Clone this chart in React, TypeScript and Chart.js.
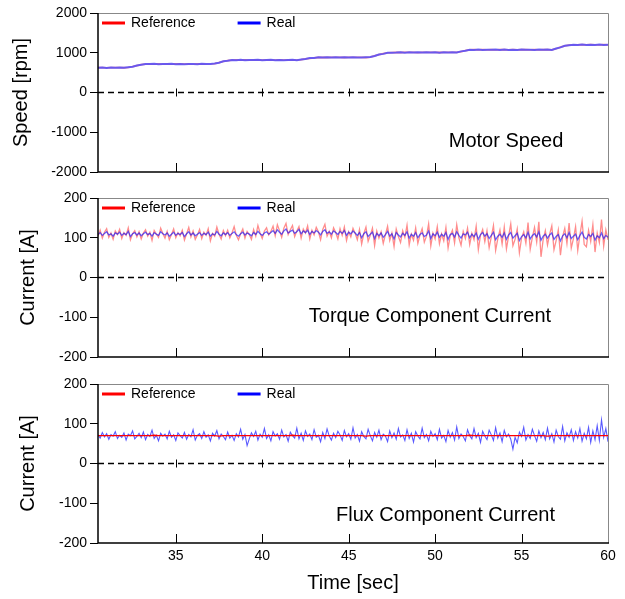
import { useEffect, useRef } from 'react';
import { Chart, registerables } from 'chart.js';

Chart.register(...registerables);

// ---------- data ----------
const T0 = 30.5; // first sample time [sec]
const DT_SLOW = 0.25; // sample interval of speed & flux reference [sec]
const DT_FAST = 0.125; // sample interval of the current signals [sec]

const X_TICKS = [35, 40, 45, 50, 55, 60];
const SPEED_TICKS = [-2000, -1000, 0, 1000, 2000];
const CURRENT_TICKS = [-200, -100, 0, 100, 200];
const SERIES_LABELS = ['Reference', 'Real'];

const SPEED_REF = [
  625, 628, 622, 626, 624, 627, 623,
  632, 652, 676, 700, 713,
  717, 715, 719, 716, 718, 714, 717, 720, 716, 718, 715, 717, 719, 716, 718,
  726, 754, 781, 804, 815,
  817, 815, 819, 816, 818, 820, 815, 817, 819, 816, 818, 814, 817, 820, 816,
  826, 846, 861, 873, 880,
  883, 881, 885, 882, 884, 880, 883, 886, 882, 884, 881,
  891, 921, 951, 976, 996, 1005,
  1008, 1006, 1010, 1007, 1009, 1005, 1008, 1011, 1007, 1009, 1006, 1008, 1010, 1007, 1009,
  1031, 1054, 1070,
  1075, 1073, 1077, 1074, 1076, 1072, 1075, 1078, 1074, 1076, 1073, 1075, 1077, 1074, 1076, 1073, 1075, 1078, 1074,
  1101, 1139, 1171, 1190,
  1200, 1198, 1203, 1199, 1201, 1197, 1200, 1204, 1199,
];

const SPEED_REAL = [
  622, 630, 619, 628, 621, 631, 620,
  635, 648, 680, 697, 716,
  714, 721, 712, 719, 715, 722, 713, 718, 711, 720, 716, 713, 721, 714, 719,
  730, 750, 785, 800, 818,
  814, 821, 812, 819, 815, 823, 811, 818, 822, 813, 820, 811, 818, 823, 814,
  829, 842, 865, 870, 884,
  880, 887, 878, 886, 881, 889, 879, 885, 883, 878, 886,
  895, 917, 955, 972, 999, 1003,
  1005, 1012, 1003, 1010, 1006, 1014, 1004, 1011, 1005, 1013, 1003, 1010, 1007, 1012, 1005,
  1035, 1050, 1073,
  1072, 1080, 1070, 1078, 1073, 1081, 1071, 1079, 1072, 1077, 1070, 1080, 1074, 1078, 1071, 1079, 1073, 1080, 1072,
  1105, 1135, 1175, 1188,
  1203, 1196, 1206, 1195, 1204, 1198, 1207, 1196, 1202,
];

const TORQUE_REF = [
  104, 119, 99, 114, 123, 101, 112, 96, 117, 108,
  121, 98, 113, 106, 125, 95, 110, 118, 102, 115,
  97, 112, 120, 104, 114, 93, 118, 109, 101, 124,
  111, 99, 116, 95, 108, 122, 100, 113, 105, 119,
  94, 110, 126, 102, 117, 96, 107, 121, 98, 114,
  106, 123, 92, 111, 104, 127, 109, 97, 118, 105,
  119, 100, 112, 128, 106, 95, 110, 122, 99, 116,
  108, 96, 121, 104, 131, 112, 98, 117, 125, 107,
  116, 129, 105, 133, 118, 101, 124, 136, 108, 120,
  131, 103, 117, 128, 99, 122, 112, 130, 97, 119,
  107, 126, 115, 95, 121, 134, 104, 116, 100, 125,
  113, 97, 123, 106, 127, 93, 115, 102, 124, 111,
  95, 121, 84, 110, 127, 91, 106, 124, 80, 117,
  99, 115, 86, 108, 129, 93, 112, 78, 122, 103,
  88, 118, 101, 132, 82, 109, 94, 125, 86, 107,
  123, 89, 104, 135, 79, 112, 97, 128, 85, 110,
  92, 126, 74, 105, 119, 87, 133, 100, 81, 116,
  98, 124, 83, 111, 95, 129, 70, 106, 121, 90,
  118, 75, 102, 131, 68, 97, 120, 84, 127, 72,
  104, 135, 80, 96, 122, 62, 99, 115, 86, 138,
  71, 101, 126, 89, 140, 52, 95, 118, 82, 109,
  130, 70, 93, 120, 56, 103, 124, 85, 137, 74,
  98, 128, 68, 107, 142, 83, 77, 119, 91, 133,
  64, 112, 88, 146, 79, 120, 95,
];

const TORQUE_REAL = [
  108, 113, 106, 111, 115, 107, 110, 104, 112, 109,
  114, 106, 111, 108, 116, 103, 110, 113, 107, 112,
  105, 110, 114, 108, 111, 104, 113, 109, 106, 115,
  110, 107, 112, 104, 109, 114, 106, 111, 108, 113,
  103, 110, 115, 107, 112, 105, 109, 113, 106, 111,
  108, 114, 104, 110, 107, 116, 109, 105, 112, 108,
  113, 106, 111, 115, 108, 104, 110, 114, 107, 112,
  109, 105, 113, 108, 116, 110, 106, 112, 115, 109,
  113, 118, 111, 120, 114, 109, 117, 122, 112, 116,
  119, 111, 115, 121, 110, 117, 113, 119, 108, 116,
  112, 118, 114, 107, 116, 120, 111, 115, 109, 117,
  113, 108, 116, 111, 118, 106, 114, 110, 117, 112,
  106, 113, 100, 110, 115, 103, 109, 114, 98, 111,
  105, 112, 101, 108, 116, 104, 110, 97, 113, 107,
  102, 111, 106, 115, 99, 109, 104, 113, 100, 108,
  112, 103, 107, 117, 98, 110, 105, 114, 101, 109,
  104, 113, 96, 108, 111, 102, 115, 106, 99, 110,
  107, 114, 100, 109, 103, 112, 96, 108, 113, 104,
  110, 98, 106, 114, 95, 104, 109, 101, 112, 96,
  107, 113, 99, 105, 111, 93, 103, 108, 100, 114,
  97, 106, 110, 102, 115, 94, 104, 109, 99, 107,
  112, 96, 103, 108, 92, 105, 110, 100, 113, 98,
  104, 109, 95, 106, 114, 101, 97, 108, 103, 111,
  94, 105, 100, 112, 98, 106, 101,
];

const FLUX_REF = [
  70, 70, 70, 70, 70, 70, 70, 70, 70, 70,
  70, 70, 70, 71, 70, 70, 70, 70, 70, 70,
  70, 70, 70, 70, 70, 70, 70, 70, 69, 70,
  70, 70, 70, 70, 70, 70, 70, 70, 70, 70,
  70, 70, 70, 70, 70, 71, 70, 70, 70, 70,
  70, 70, 70, 70, 70, 70, 70, 70, 70, 70,
  70, 70, 69, 70, 70, 70, 70, 70, 70, 70,
  70, 70, 70, 70, 70, 70, 70, 70, 70, 70,
  70, 70, 70, 70, 70, 70, 71, 70, 70, 70,
  70, 70, 70, 70, 70, 70, 70, 70, 70, 70,
  70, 70, 70, 70, 69, 70, 70, 70, 70, 70,
  70, 70, 70, 70, 70, 70, 70, 70, 70,
];

const FLUX_REAL = [
  72, 64, 78, 67, 75, 61, 73, 69, 80, 63,
  71, 66, 77, 59, 74, 70, 82, 62, 68, 76,
  65, 79, 60, 73, 68, 84, 63, 71, 57, 76,
  69, 74, 62, 81, 66, 72, 58, 77, 70, 64,
  78, 61, 73, 67, 85, 59, 71, 75, 63, 80,
  66, 72, 57, 76, 69, 83, 62, 74, 68, 60,
  79, 64, 71, 58, 75, 67, 86, 61, 73, 45,
  62, 77, 68, 81, 59, 74, 66, 88, 63, 72,
  57, 80, 69, 75, 61, 84, 67, 73, 56, 79,
  70, 64, 89, 62, 76, 58, 82, 68, 74, 60,
  85, 66, 71, 55, 78, 63, 87, 69, 59, 76,
  65, 81, 72, 58, 83, 67, 75, 61, 90, 64,
  73, 56, 80, 68, 62, 86, 70, 57, 78, 66,
  84, 60, 74, 69, 55, 82, 65, 77, 61, 88,
  67, 72, 58, 85, 63, 76, 54, 80, 69, 62,
  89, 65, 73, 57, 81, 68, 75, 60, 86, 64,
  71, 55, 83, 66, 78, 59, 92, 63, 74, 68,
  57, 85, 70, 62, 88, 65, 76, 53, 81, 69,
  60, 84, 72, 58, 90, 64, 77, 55, 83, 67,
  74, 61, 36, 66, 52, 79, 68, 91, 59, 73,
  63, 86, 70, 56, 82, 65, 78, 60, 89, 62,
  75, 54, 84, 68, 61, 93, 57, 77, 66, 85,
  58, 80, 64, 88, 56, 76, 62, 91, 53, 82,
  60, 95, 58, 110, 66, 88, 55,
];

// ---------- styling / layout ----------
const FONT = "'Liberation Sans', Arial, Helvetica, sans-serif";
const W = 625;

type PanelCfg = {
  top: number;
  height: number;
  padTop: number;
  padBottom: number;
  yTitle: string;
  yTitlePad: number;
  yMin: number;
  yMax: number;
  yTicks: number[];
  ref: number[];
  real: number[];
  refDt: number;
  realDt: number;
  refColor: string;
  realColor: string;
  refWidth: number;
  realWidth: number;
  realOnTop: boolean;
  note: string;
  noteX: number;
  noteY: number;
  showX: boolean;
};

const PANELS: PanelCfg[] = [
  {
    top: 0, height: 185, padTop: 13, padBottom: 13,
    yTitle: 'Speed [rpm]', yTitlePad: 9,
    yMin: -2000, yMax: 2000, yTicks: SPEED_TICKS,
    ref: SPEED_REF, real: SPEED_REAL, refDt: DT_SLOW, realDt: DT_SLOW,
    refColor: 'rgba(255,0,0,0.5)', realColor: 'rgba(80,80,255,0.85)',
    refWidth: 1.8, realWidth: 2, realOnTop: true,
    note: 'Motor Speed', noteX: 54.1, noteY: -1225, showX: false,
  },
  {
    top: 185, height: 185, padTop: 13, padBottom: 13,
    yTitle: 'Current [A]', yTitlePad: 16,
    yMin: -200, yMax: 200, yTicks: CURRENT_TICKS,
    ref: TORQUE_REF, real: TORQUE_REAL, refDt: DT_FAST, realDt: DT_FAST,
    refColor: 'rgba(255,0,0,0.45)', realColor: 'rgba(0,0,255,0.6)',
    refWidth: 1.3, realWidth: 1.3, realOnTop: true,
    note: 'Torque Component Current', noteX: 49.7, noteY: -97, showX: false,
  },
  {
    top: 370, height: 229, padTop: 14, padBottom: 0,
    yTitle: 'Current [A]', yTitlePad: 16,
    yMin: -200, yMax: 200, yTicks: CURRENT_TICKS,
    ref: FLUX_REF, real: FLUX_REAL, refDt: DT_SLOW, realDt: DT_FAST,
    refColor: 'rgba(255,0,0,1)', realColor: 'rgba(0,0,255,0.65)',
    refWidth: 1.3, realWidth: 1.1, realOnTop: false,
    note: 'Flux Component Current', noteX: 50.6, noteY: -132, showX: true,
  },
];

const toXY = (vals: number[], dt: number) => vals.map((y, i) => ({ x: T0 + i * dt, y }));

const decorPlugin = {
  id: 'decor',
  beforeDatasetsDraw(chart: any) {
    const { ctx, chartArea: a, scales } = chart;
    const y0 = scales.y.getPixelForValue(0);
    ctx.save();
    ctx.strokeStyle = '#000';
    ctx.lineWidth = 1.5;
    ctx.setLineDash([6, 4]);
    ctx.beginPath();
    ctx.moveTo(a.left, y0);
    ctx.lineTo(a.right, y0);
    ctx.stroke();
    ctx.restore();
  },
  afterDatasetsDraw(chart: any, _args: any, opts: any) {
    const { ctx, chartArea: a, scales } = chart;
    const { x, y } = scales;
    ctx.save();
    // frame
    ctx.setLineDash([]);
    ctx.strokeStyle = '#888';
    ctx.lineWidth = 1;
    ctx.beginPath();
    ctx.moveTo(a.left, a.top + 0.5);
    ctx.lineTo(a.right + 0.5, a.top + 0.5);
    ctx.lineTo(a.right + 0.5, a.bottom);
    ctx.stroke();
    ctx.strokeStyle = '#000';
    ctx.lineWidth = 1.5;
    ctx.beginPath();
    ctx.moveTo(a.left, a.top);
    ctx.lineTo(a.left, a.bottom);
    ctx.lineTo(a.right + 1, a.bottom);
    ctx.stroke();
    // x tick marks (inside bottom + crosses on zero line)
    const y0 = y.getPixelForValue(0);
    ctx.lineWidth = 1;
    ctx.beginPath();
    X_TICKS.forEach((v) => {
      const px = Math.round(x.getPixelForValue(v)) + 0.5;
      if (px < a.right - 1) {
        ctx.moveTo(px, a.bottom);
        ctx.lineTo(px, a.bottom - 9);
        ctx.moveTo(px, y0 - 4);
        ctx.lineTo(px, y0 + 4);
      }
    });
    ctx.stroke();
    // legend inside the plot
    ctx.font = `14px ${FONT}`;
    ctx.textBaseline = 'middle';
    ctx.textAlign = 'left';
    const ly = a.top + 10;
    let lx = a.left + 4;
    const dsList = [...chart.data.datasets].sort((p: any, q: any) => p.legendIndex - q.legendIndex);
    dsList.forEach((ds: any) => {
      ctx.strokeStyle = ds.legendColor;
      ctx.lineWidth = 3;
      ctx.beginPath();
      ctx.moveTo(lx, ly);
      ctx.lineTo(lx + 23, ly);
      ctx.stroke();
      ctx.fillStyle = '#000';
      ctx.fillText(ds.label, lx + 29, ly);
      lx += 29 + ctx.measureText(ds.label).width + 42;
    });
    // panel note
    if (opts && opts.text) {
      ctx.font = `20px ${FONT}`;
      ctx.textAlign = 'center';
      ctx.fillStyle = '#000';
      ctx.fillText(opts.text, x.getPixelForValue(opts.x), y.getPixelForValue(opts.y));
    }
    ctx.restore();
  },
};

function Panel({ cfg }: { cfg: PanelCfg }) {
  const ref = useRef<HTMLCanvasElement>(null);
  useEffect(() => {
    if (!ref.current) return;
    const chart = new Chart(ref.current, {
      type: 'line',
      data: {
        datasets: [
          {
            label: SERIES_LABELS[0],
            data: toXY(cfg.ref, cfg.refDt),
            borderColor: cfg.refColor,
            borderWidth: cfg.refWidth,
            pointRadius: 0,
            tension: 0,
            fill: false,
            order: cfg.realOnTop ? 1 : 0,
            legendColor: '#ff0000',
            legendIndex: 0,
          } as any,
          {
            label: SERIES_LABELS[1],
            data: toXY(cfg.real, cfg.realDt),
            borderColor: cfg.realColor,
            borderWidth: cfg.realWidth,
            pointRadius: 0,
            tension: 0,
            fill: false,
            order: cfg.realOnTop ? 0 : 1,
            legendColor: '#0000ff',
            legendIndex: 1,
          } as any,
        ],
      },
      options: {
        responsive: false,
        animation: false,
        devicePixelRatio: 1,
        events: [],
        layout: { padding: { top: cfg.padTop, bottom: cfg.padBottom, left: 0, right: 17 } },
        plugins: {
          legend: { display: false },
          tooltip: { enabled: false },
          decor: { text: cfg.note, x: cfg.noteX, y: cfg.noteY },
        } as any,
        scales: {
          x: {
            type: 'linear',
            min: T0,
            max: 60,
            display: cfg.showX,
            afterBuildTicks: (s: any) => {
              s.ticks = X_TICKS.map((v) => ({ value: v }));
            },
            afterFit: (s: any) => {
              if (cfg.showX) s.height = cfg.height - cfg.padTop - 159;
            },
            grid: { display: false, drawTicks: false },
            border: { display: false },
            ticks: {
              font: { family: FONT, size: 14 },
              color: '#000',
              padding: 5,
              maxRotation: 0,
              autoSkip: false,
              callback: (v: any) => String(v),
            },
            title: {
              display: true,
              text: 'Time [sec]',
              font: { family: FONT, size: 20 },
              color: '#000',
              padding: { top: 0, bottom: 4 },
            },
          },
          y: {
            type: 'linear',
            min: cfg.yMin,
            max: cfg.yMax,
            afterBuildTicks: (s: any) => {
              s.ticks = cfg.yTicks.map((v) => ({ value: v }));
            },
            afterFit: (s: any) => {
              s.width = 98;
            },
            grid: { display: true, drawOnChartArea: false, drawTicks: true, tickLength: 8, color: '#000', lineWidth: 1 },
            border: { display: false },
            ticks: {
              font: { family: FONT, size: 14 },
              color: '#000',
              padding: 3,
              callback: (v: any) => String(v),
            },
            title: {
              display: true,
              text: cfg.yTitle,
              font: { family: FONT, size: 20 },
              color: '#000',
              padding: { top: cfg.yTitlePad, bottom: 0 },
            },
          },
        },
      },
      plugins: [decorPlugin],
    });
    return () => chart.destroy();
  }, [cfg]);
  return (
    <canvas
      ref={ref}
      width={W}
      height={cfg.height}
      style={{ position: 'absolute', left: 0, top: cfg.top, width: W, height: cfg.height, display: 'block' }}
    />
  );
}

export default function App() {
  return (
    <div style={{ position: 'fixed', left: 0, top: 0, width: W, height: 599, background: '#fff' }}>
      {PANELS.map((p, i) => (
        <Panel key={i} cfg={p} />
      ))}
    </div>
  );
}
